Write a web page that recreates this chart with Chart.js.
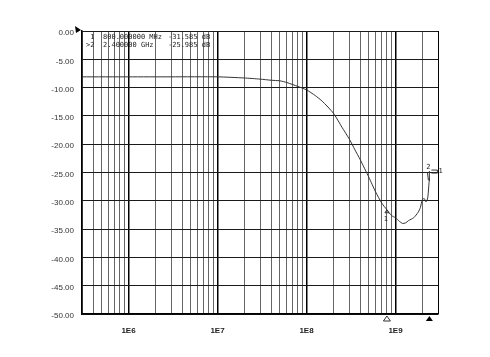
<!DOCTYPE html>
<html>
<head>
<meta charset="utf-8">
<script src="https://cdn.jsdelivr.net/npm/chart.js@4"></script>
<style>
  html, body { margin: 0; padding: 0; background: #fff; }
  canvas { display: block; }
</style>
</head>
<body>
<canvas id="c" width="490" height="357"></canvas>
<script>
// ---- data ----
const freqs = [3e5, 1e6, 3e6, 1e7, 2e7, 3e7, 4e7, 5e7, 6e7, 8e7, 1e8, 1.25e8, 1.5e8, 2e8, 2.5e8,
               3e8, 3.5e8, 4e8, 5e8, 6e8, 7e8, 8e8, 9e8, 1e9, 1.1e9, 1.2e9, 1.3e9, 1.4e9, 1.6e9,
               1.8e9, 1.9e9, 2.0e9, 2.1e9, 2.2e9, 2.3e9, 2.4e9];
const gainDb = [-8.1, -8.1, -8.1, -8.1, -8.3, -8.5, -8.7, -8.8, -9.1, -9.8, -10.4, -11.4, -12.4, -14.5, -17.0,
                -19.0, -21.0, -22.7, -25.8, -28.5, -30.4, -31.6, -32.6, -33.0, -33.6, -34.0, -33.9, -33.5, -33.0,
                -32.0, -31.2, -29.8, -29.6, -30.2, -29.5, -26.0];
const xTickValues = [1e6, 1e7, 1e8, 1e9];
const xTickLabels = ['1E6', '1E7', '1E8', '1E9'];
const yTickValues = [0, -5, -10, -15, -20, -25, -30, -35, -40, -45, -50];
const xMin = 3e5, xMax = 3e9;
const markerIds = ['1', '2'];
const markerFreqs = [8e8, 2.4e9];
const markerVals = [-31.585, -25.985];
const markerFreqText = ['800.000000 MHz', '2.400000 GHz'];

const isDecade = v => Math.abs(Math.log10(v) - Math.round(Math.log10(v))) < 1e-9;

const overlay = {
  id: 'overlay',
  afterDraw(chart) {
    const ctx = chart.ctx, xs = chart.scales.x, ys = chart.scales.y;
    const a = chart.chartArea;
    ctx.save();
    // reference level flag
    ctx.fillStyle = '#000';
    const ry = ys.getPixelForValue(0);
    ctx.beginPath();
    ctx.moveTo(a.left - 7, ry - 5);
    ctx.lineTo(a.left - 1, ry - 1);
    ctx.lineTo(a.left - 6, ry + 2);
    ctx.closePath();
    ctx.fill();
    // marker readout
    ctx.font = '7px "DejaVu Sans Mono", monospace';
    ctx.fillStyle = '#222';
    ctx.textBaseline = 'middle';
    for (let i = 0; i < markerIds.length; i++) {
      const y = a.top + 6 + i * 8;
      ctx.textAlign = 'left';
      ctx.fillText((i === 1 ? '>' : ' ') + markerIds[i], a.left + 4, y);
      ctx.fillText(markerFreqText[i], a.left + 21, y);
      ctx.fillText(markerVals[i].toFixed(3) + ' dB', a.left + 86, y);
    }
    // markers on trace
    ctx.strokeStyle = '#333';
    ctx.lineWidth = 1;
    ctx.textAlign = 'center';
    // marker 1
    let mx = xs.getPixelForValue(markerFreqs[0]), my = ys.getPixelForValue(markerVals[0]);
    ctx.beginPath();
    ctx.moveTo(mx - 2, my + 3); ctx.lineTo(mx + 2, my + 3); ctx.lineTo(mx, my); ctx.closePath();
    ctx.stroke();
    ctx.fillText(markerIds[0], mx - 1, my + 9);
    // marker 2
    mx = xs.getPixelForValue(markerFreqs[1]); my = ys.getPixelForValue(markerVals[1]);
    ctx.beginPath();
    ctx.moveTo(mx, my - 7); ctx.lineTo(mx, my + 3);
    ctx.moveTo(mx - 2, my - 6); ctx.lineTo(mx - 1, my + 2);
    ctx.stroke();
    ctx.fillText(markerIds[1], mx - 1, my - 11);
    ctx.beginPath();
    ctx.moveTo(mx + 2, my - 8); ctx.lineTo(mx + 8, my - 8); ctx.lineTo(mx + 8, my - 5); ctx.lineTo(mx + 2, my - 5);
    ctx.stroke();
    ctx.textAlign = 'left';
    ctx.fillText('1', mx + 9, my - 7);
    // stimulus markers below axis
    const by = a.bottom + 2;
    let sx = xs.getPixelForValue(markerFreqs[0]);
    ctx.beginPath();
    ctx.moveTo(sx, by); ctx.lineTo(sx - 3.5, by + 5); ctx.lineTo(sx + 3.5, by + 5); ctx.closePath();
    ctx.stroke();
    sx = xs.getPixelForValue(markerFreqs[1]);
    ctx.fillStyle = '#000';
    ctx.beginPath();
    ctx.moveTo(sx, by); ctx.lineTo(sx - 3.5, by + 5); ctx.lineTo(sx + 3.5, by + 5); ctx.closePath();
    ctx.fill();
    ctx.restore();
  }
};

new Chart(document.getElementById('c'), {
  type: 'line',
  data: {
    datasets: [{
      data: freqs.map((f, i) => ({ x: f, y: gainDb[i] })),
      borderColor: '#333',
      borderWidth: 1,
      pointRadius: 0,
      tension: 0.2,
      fill: false
    }]
  },
  options: {
    responsive: false,
    animation: false,
    devicePixelRatio: 1,
    layout: { padding: { left: 0, right: 52, top: 31, bottom: 0 } },
    plugins: { legend: { display: false }, tooltip: { enabled: false } },
    scales: {
      x: {
        type: 'logarithmic',
        min: xMin, max: xMax,
        afterBuildTicks(scale) {
          const t = [];
          for (let e = 5; e <= 9; e++) {
            for (let m = 1; m <= 9; m++) {
              const v = m * Math.pow(10, e);
              if (v >= xMin * 0.999 && v <= xMax * 1.001) t.push({ value: v });
            }
          }
          scale.ticks = t;
        },
        afterFit(scale) { scale.height = 43; },
        grid: {
          color: c => (c.tick && (isDecade(c.tick.value) || c.tick.value >= xMax * 0.999)) ? '#000' : '#666',
          lineWidth: c => (c.tick && isDecade(c.tick.value)) ? 1.5 : 1,
          drawTicks: false
        },
        border: { display: true, color: '#000', width: 1.5 },
        ticks: {
          autoSkip: false, maxRotation: 0, padding: 12,
          color: '#222',
          font: { family: '"Liberation Sans", Arial, sans-serif', size: 8, weight: 'bold' },
          callback(v) {
            const i = xTickValues.findIndex(t => Math.abs(t - v) / t < 1e-6);
            return i >= 0 ? xTickLabels[i] : '';
          }
        }
      },
      y: {
        min: -50, max: 0,
        afterBuildTicks(scale) { scale.ticks = yTickValues.map(v => ({ value: v })); },
        afterFit(scale) { scale.width = 82; },
        grid: { color: '#1a1a1a', lineWidth: 1, drawTicks: false },
        border: { display: true, color: '#000', width: 1.5 },
        ticks: {
          padding: 8, labelOffset: 2,
          color: '#333',
          font: { family: '"Liberation Sans", Arial, sans-serif', size: 8 },
          callback: v => Number(v).toFixed(2)
        }
      }
    }
  },
  plugins: [overlay]
});
</script>
</body>
</html>
